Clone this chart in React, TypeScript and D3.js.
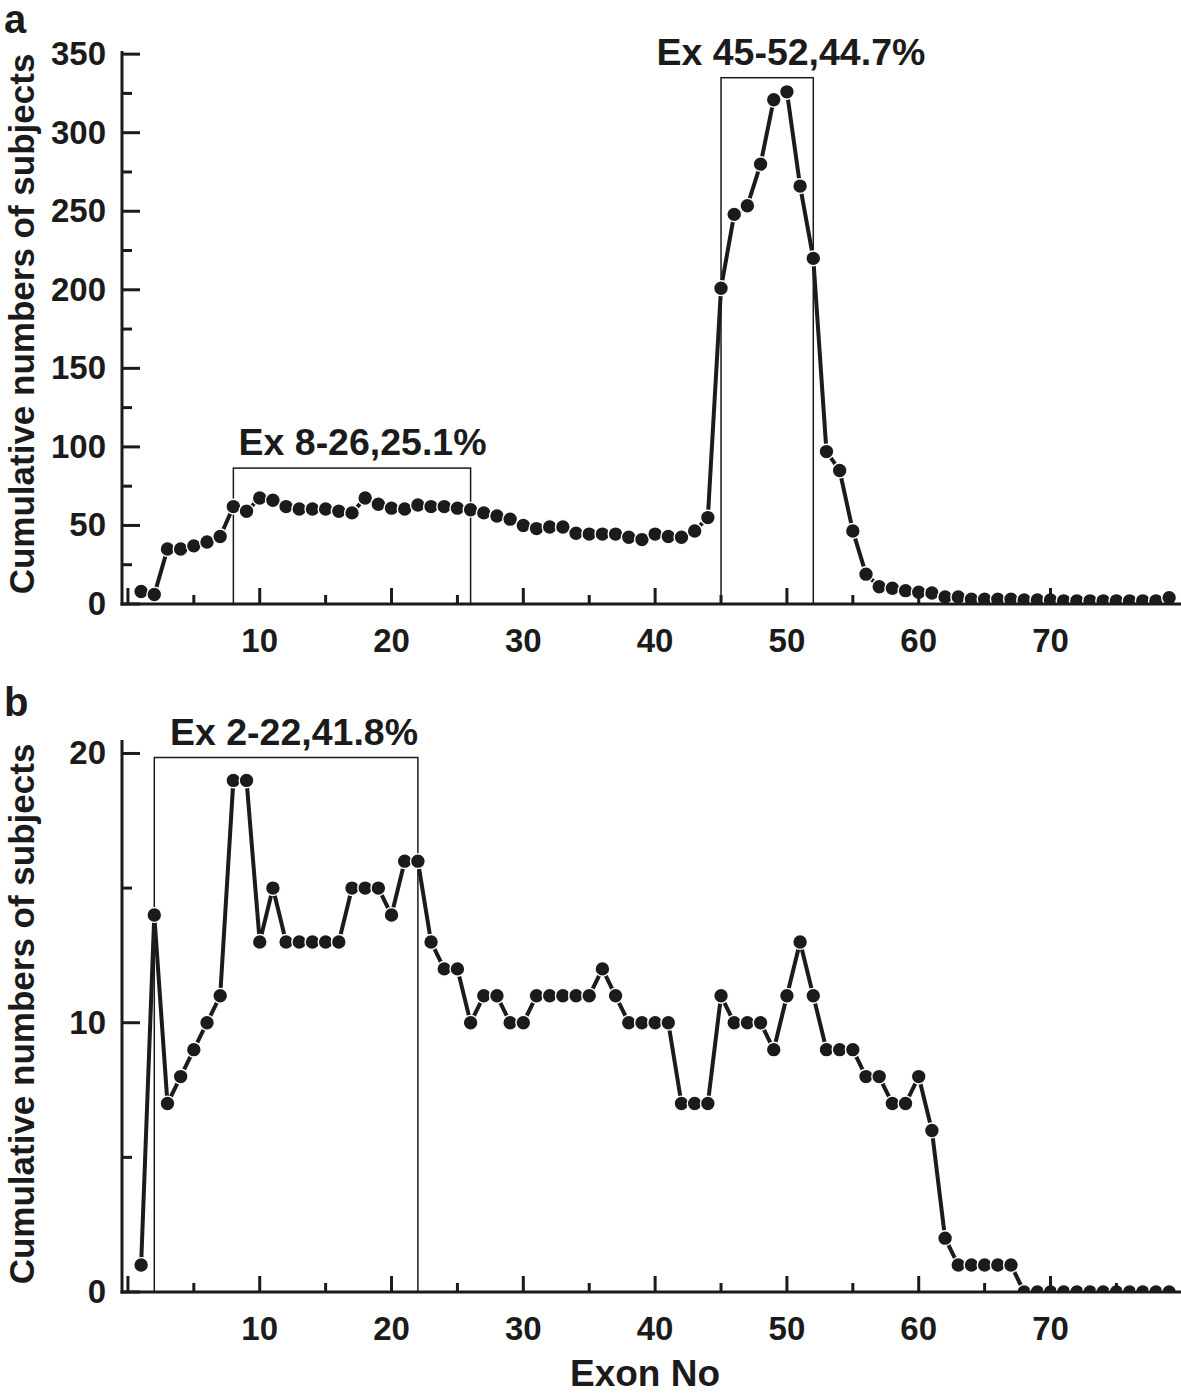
import React from 'react'
import * as d3 from 'd3'

// exon numbers 1..79
const exons = d3.range(1, 80)

// panel a: cumulative numbers of subjects (deletions)
const valuesA = [
  8, 6, 35, 35, 37, 39.5, 43, 62, 59, 67.5,
  66, 62, 60.5, 60.5, 60.5, 59, 58, 67.5, 63.5, 61,
  60.5, 63, 62, 62, 61, 60, 58, 56, 54, 50,
  48, 49, 49, 45, 44.5, 44.5, 44.5, 42.5, 41, 44.5,
  43, 42.5, 46.5, 55, 201, 248, 253.5, 280, 321, 326,
  266, 220, 97, 85, 46.5, 19, 11, 10, 8.5, 7.5,
  7, 4.5, 4.5, 3, 3, 3, 3, 2.5, 2.5, 2.5,
  2, 2, 2, 2, 2, 2, 2, 2, 4,
]

// panel b: cumulative numbers of subjects (duplications)
const valuesB = [
  1, 14, 7, 8, 9, 10, 11, 19, 19, 13,
  15, 13, 13, 13, 13, 13, 15, 15, 15, 14,
  16, 16, 13, 12, 12, 10, 11, 11, 10, 10,
  11, 11, 11, 11, 11, 12, 11, 10, 10, 10,
  10, 7, 7, 7, 11, 10, 10, 10, 9, 11,
  13, 11, 9, 9, 9, 8, 8, 7, 7, 8,
  6, 2, 1, 1, 1, 1, 1, 0, 0, 0,
  0, 0, 0, 0, 0, 0, 0, 0, 0,
]

// hot-spot boxes: from/to exon, box top value, label, label centre exon
const boxesA = [
  { from: 8, to: 26, top: 86.5, label: 'Ex 8-26,25.1%', at: 17.8 },
  { from: 45, to: 52, top: 335, label: 'Ex 45-52,44.7%', at: 50.3 },
]
const boxesB = [
  { from: 2, to: 22, top: 19.85, label: 'Ex 2-22,41.8%', at: 12.6 },
]

const xTickLabels = [10, 20, 30, 40, 50, 60, 70]
const yTicksA = [0, 50, 100, 150, 200, 250, 300, 350]
const yTicksB = [0, 10, 20]

const W = 1181
const H = 1394
const FONT = '"Liberation Sans", Arial, Helvetica, sans-serif'
const INK = '#1b1b1b'

const x = d3.scaleLinear().domain([-0.45, 79.9]).range([122, W])

type Box = { from: number; to: number; top: number; label: string; at: number }

function Panel(props: {
  id: string
  letter: string
  letterY: number
  values: number[]
  y: d3.ScaleLinear<number, number>
  majorY: number[]
  minorStep: number
  boxes: Box[]
  titleY: number
}) {
  const { id, letter, letterY, values, y, majorY, minorStep, boxes, titleY } = props
  const [y0, yTop] = y.range()
  const [, yMax] = y.domain()
  const minorY = d3.range(minorStep, yMax, minorStep * 2)
  const majorX = d3.range(0, 80, 10)
  const minorX = d3.range(5, 80, 10)
  const pts = exons.map((e, i) => [e, values[i]] as [number, number])
  const line = d3.line<[number, number]>().x(d => x(d[0])).y(d => y(d[1]))
  const x0 = x.range()[0]

  return (
    <g>
      <defs>
        <clipPath id={'clip-' + id}>
          <rect x={x0} y={yTop - 20} width={W - x0} height={y0 - yTop + 20} />
        </clipPath>
      </defs>
      <text x={4} y={letterY} fontFamily={FONT} fontWeight="bold" fontSize={40} fill={INK}>{letter}</text>

      {/* boxes */}
      {boxes.map(b => (
        <g key={b.label}>
          <rect x={x(b.from)} y={y(b.top)} width={x(b.to) - x(b.from)} height={y0 - y(b.top)}
            fill="none" stroke={INK} strokeWidth={1.5} />
          <text x={x(b.at)} y={y(b.top) - 13} textAnchor="middle" fontFamily={FONT}
            fontWeight="bold" fontSize={37.5} fill={INK}>{b.label}</text>
        </g>
      ))}

      {/* data */}
      <g clipPath={`url(#clip-${id})`}>
        <path d={line(pts) || ''} fill="none" stroke={INK} strokeWidth={4} strokeLinejoin="round" />
        {pts.map(p => (
          <circle key={p[0]} cx={x(p[0])} cy={y(p[1])} r={7.4} fill={INK} stroke="#fff" strokeWidth={1.4} />
        ))}
      </g>

      {/* axes */}
      <line x1={x0} x2={x0} y1={yTop} y2={y0 + 1.5} stroke={INK} strokeWidth={3} />
      <line x1={x0 - 1.5} x2={W} y1={y0} y2={y0} stroke={INK} strokeWidth={3} />
      {majorX.map(t => (
        <line key={'mx' + t} x1={x(t)} x2={x(t)} y1={y0} y2={y0 - 16} stroke={INK} strokeWidth={3} />
      ))}
      {minorX.map(t => (
        <line key={'nx' + t} x1={x(t)} x2={x(t)} y1={y0} y2={y0 - 9} stroke={INK} strokeWidth={3} />
      ))}
      {xTickLabels.map(t => (
        <text key={'lx' + t} x={x(t)} y={y0 + 48} textAnchor="middle" fontFamily={FONT}
          fontWeight="bold" fontSize={33} fill={INK}>{t}</text>
      ))}
      {majorY.map(t => (
        <line key={'my' + t} x1={x0} x2={x0 + 18} y1={y(t)} y2={y(t)} stroke={INK} strokeWidth={3} />
      ))}
      {minorY.map(t => (
        <line key={'ny' + t} x1={x0} x2={x0 + 10} y1={y(t)} y2={y(t)} stroke={INK} strokeWidth={3} />
      ))}
      {majorY.map(t => (
        <text key={'ly' + t} x={106} y={y(t) + 11} textAnchor="end" fontFamily={FONT}
          fontWeight="bold" fontSize={33} fill={INK}>{t}</text>
      ))}
      <text transform={`translate(34,${titleY}) rotate(-90)`} textAnchor="middle" fontFamily={FONT}
        fontWeight="bold" fontSize={35} fill={INK}>Cumulative numbers of subjects</text>
    </g>
  )
}

export default function App() {
  const yA = d3.scaleLinear().domain([0, 352]).range([604, 51])
  const yB = d3.scaleLinear().domain([0, 20.5]).range([1292, 740])
  return (
    <svg width={W} height={H} style={{ position: 'absolute', left: 0, top: 0, background: '#fff' }}>
      <rect width={W} height={H} fill="#fff" />
      <Panel id="a" letter="a" letterY={33} values={valuesA} y={yA} majorY={yTicksA} minorStep={25}
        boxes={boxesA} titleY={324} />
      <Panel id="b" letter="b" letterY={716} values={valuesB} y={yB} majorY={yTicksB} minorStep={5}
        boxes={boxesB} titleY={1014} />
      <text x={645} y={1386} textAnchor="middle" fontFamily={FONT} fontWeight="bold" fontSize={37} fill={INK}>Exon No</text>
    </svg>
  )
}
